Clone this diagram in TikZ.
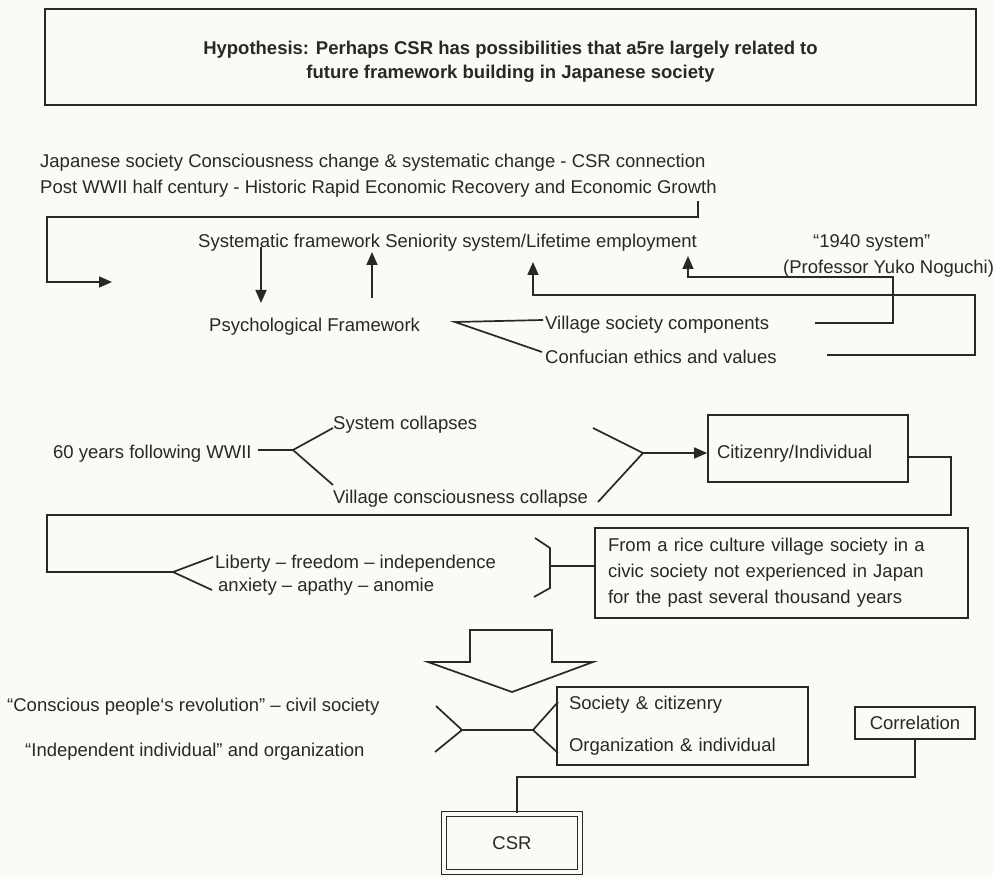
\documentclass[tikz,border=0pt]{standalone}
\usepackage{fontspec}
\setmainfont{Liberation Sans}
\usetikzlibrary{arrows.meta,calc}
\definecolor{paper}{RGB}{251,250,244}
\definecolor{ink}{RGB}{40,40,40}
\begin{document}
\begin{tikzpicture}[x=1pt,y=-1pt,
  every node/.style={font=\fontsize{18.5}{22}\selectfont, text=ink},
  txt/.style={anchor=base west, inner sep=0pt},
  box/.style={draw=ink, line width=1.7pt},
  ln/.style={draw=ink, line width=1.7pt},
  arr/.style={ln, -{Triangle[length=13pt,width=11pt]}}]

\fill[paper] (0,0) rectangle (993,877);
\useasboundingbox (0,0) rectangle (993,877);

% ---------- hypothesis box ----------
\node[box, minimum width=931pt, minimum height=96pt, inner sep=0pt] (hypbox) at (510.5,57) {};
\node[font=\bfseries\fontsize{18.5}{24}\selectfont, align=center, inner sep=0pt] (hyp) at (510.5,62)
  {Hypothesis: Perhaps CSR has possibilities that a5re largely related to\\future framework building in Japanese society};

% ---------- heading lines ----------
\node[txt] (jap) at (40,168) {Japanese society Consciousness change \& systematic change - CSR connection};
\node[txt] (post) at (40,194) {Post WWII half century - Historic Rapid Economic Recovery and Economic Growth};

\coordinate (b1) at (698,201);
\coordinate (b2) at (698,217);
\coordinate (b3) at (47,217);
\coordinate (b4) at (47,282);
\coordinate (b5) at (112,282);
\draw[arr] (b1) -- (b2) -- (b3) -- (b4) -- (b5);

% ---------- framework section ----------
\node[txt] (sys) at (198,248) {Systematic framework Seniority system/Lifetime employment};
\node[txt] (psy) at (209,331) {Psychological Framework};
\node[txt] (y1940) at (813,248) {“1940 system”};
\node[txt] (prof) at (783,274) {(Professor Yuko Noguchi)};
\node[txt] (vil) at (545,329) {Village society components};
\node[txt] (con) at (545,363) {Confucian ethics and values};

\coordinate (d1) at (261,247);
\coordinate (d2) at (261,303);
\draw[arr] (d1) -- (d2);
\coordinate (u1) at (372,298);
\coordinate (u2) at (372,252);
\draw[arr] (u1) -- (u2);

\coordinate (pv) at (455,322);
\coordinate (pv1) at (543,320);
\coordinate (pv2) at (542,352);
\draw[ln] (pv1) -- (pv) -- (pv2);

\coordinate (v1) at (815,323);
\coordinate (v2) at (893,323);
\coordinate (v3) at (893,277);
\coordinate (v4) at (688,277);
\coordinate (v5) at (688,256);
\draw[arr] (v1) -- (v2) -- (v3) -- (v4) -- (v5);

\coordinate (c1) at (827,355);
\coordinate (c2) at (975,355);
\coordinate (c3) at (975,295);
\coordinate (c4) at (533,295);
\coordinate (c5) at (533,262);
\draw[arr] (c1) -- (c2) -- (c3) -- (c4) -- (c5);

% ---------- collapse section ----------
\node[txt] (sixty) at (53,458) {60 years following WWII};
\node[txt] (syscol) at (333,429) {System collapses};
\node[txt] (vilcol) at (333,503) {Village consciousness collapse};

\coordinate (s0) at (258,450);
\coordinate (sv) at (293,450);
\coordinate (s1) at (333,428);
\coordinate (s2) at (333,485);
\draw[ln] (s0) -- (sv);
\draw[ln] (s1) -- (sv) -- (s2);

\node[box, text width=182pt, inner xsep=9pt, text height=22pt, text depth=3pt, inner ysep=21pt, align=left] (cit) at (808,448.5) {Citizenry/Individual};

\coordinate (m1) at (593,428);
\coordinate (mv) at (643,453);
\coordinate (m2) at (598,502);
\draw[ln] (m1) -- (mv) -- (m2);
\draw[arr] (mv) -- (mv -| cit.west);

\coordinate (r0) at ($(cit.east)+(0,8.5)$);
\coordinate (r1) at (951,457);
\coordinate (r2) at (951,515);
\coordinate (r3) at (47,515);
\coordinate (r4) at (47,572);
\coordinate (lv) at (173,572);
\draw[ln] (r0) -- (r1) -- (r2) -- (r3) -- (r4) -- (lv);

\node[txt] (lib) at (215,568) {Liberty – freedom – independence};
\node[txt] (anx) at (218,591) {anxiety – apathy – anomie};
\coordinate (l1) at (213,557);
\coordinate (l2) at (212,590);
\draw[ln] (l1) -- (lv) -- (l2);

\node[box, text width=347pt, inner xsep=13pt, align=left, minimum height=90pt,
  font=\fontsize{18.5}{26}\selectfont] (rice) at (781.5,573)
  {From a rice culture village society in a\\civic society not experienced in Japan\\for the past several thousand years};

\coordinate (k1) at (535,538);
\coordinate (k2) at (550,548);
\coordinate (k3) at (550,588);
\coordinate (k4) at (534,597);
\coordinate (km) at (550,566);
\draw[ln] (k1) -- (k2) -- (k3) -- (k4);
\draw[ln] (km) -- (km -| rice.west);

% ---------- big down arrow ----------
\draw[ln, line join=miter] (470,630) coordinate (ba1) -- (552,630) -- (552,662) -- (593,662)
  -- (512,692) coordinate (btip) -- (428,662) -- (470,662) -- cycle;

% ---------- civil society section ----------
\node[txt] (cons) at (7,711) {“Conscious people‘s revolution” – civil society};
\node[txt] (indep) at (25,756) {“Independent individual” and organization};

\node[box, text width=227pt, inner xsep=12pt, align=left, minimum height=78pt,
  font=\fontsize{18.5}{42}\selectfont] (soc) at (682.5,726)
  {Society \& citizenry\\Organization \& individual};

\coordinate (g1) at (436,706);
\coordinate (gv) at (462,730);
\coordinate (g2) at (435,752);
\coordinate (hv) at (533,730);
\coordinate (h1) at (558,702);
\coordinate (h2) at (558,753);
\draw[ln] (g1) -- (gv) -- (g2);
\draw[ln] (gv) -- (hv);
\draw[ln] (h1) -- (hv) -- (h2);

\node[box, minimum width=120pt, minimum height=32pt, inner sep=0pt] (corr) at (915,723) {Correlation};

\node[draw=ink, double=paper, double distance=3.5pt, line width=1.4pt,
  minimum width=136pt, minimum height=58pt] (csr) at (512,843) {CSR};

\coordinate (q1) at (517,777);
\draw[ln] (corr.south) |- (q1) -- (q1 |- csr.north);

\end{tikzpicture}
\end{document}
